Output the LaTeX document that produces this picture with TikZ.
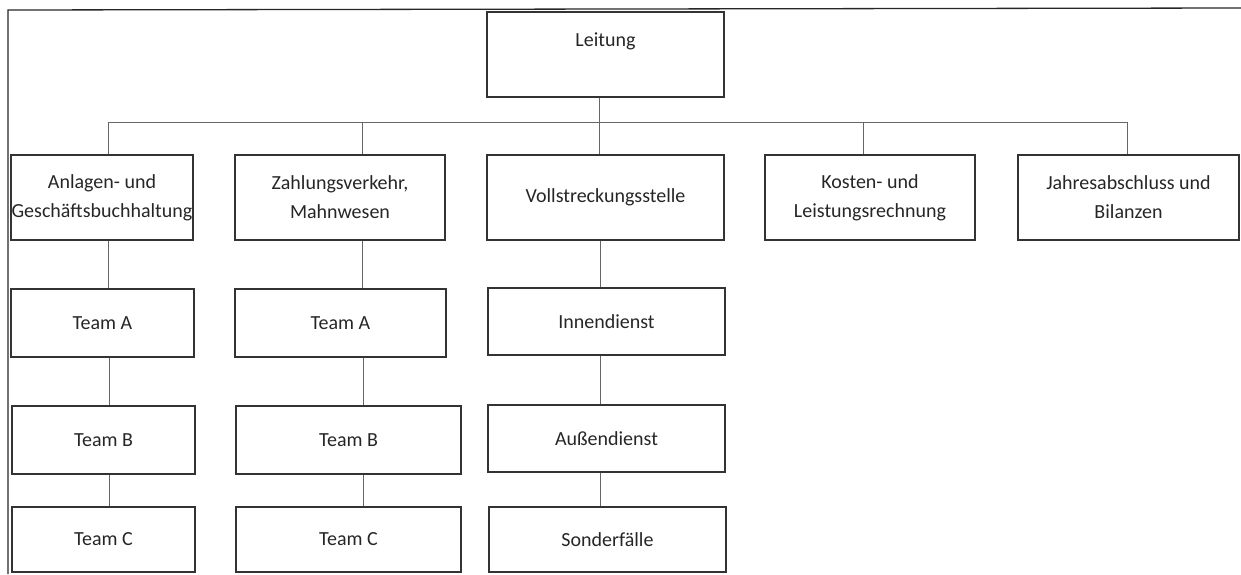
\documentclass[tikz,border=0pt]{standalone}
\usepackage{fontspec}
\setmainfont{Carlito}
\begin{document}
\begin{tikzpicture}[x=1pt,y=-1pt,
  box/.style={draw=black!80, line width=1.2pt, align=center, inner sep=0pt,
    font=\fontsize{20}{29}\selectfont, text=black!85},
  conn/.style={draw=black!60, line width=1pt},
  frame/.style={draw=black!85, line width=1.3pt}]
\useasboundingbox (0,0) rectangle (1241,574);
% frame
\draw[frame] (8,574) -- (8,10) -- (1241,8);
% top
\node[box, minimum width=237pt, minimum height=85pt, text height=14pt, text depth=31pt] (lei) at (605.5,54.5) {Leitung};
% row 1
\node[box, minimum width=182pt, minimum height=85pt] (anl) at (102,197.5) {Anlagen- und\\Geschäftsbuchhaltung};
\node[box, minimum width=210pt, minimum height=85pt] (zah) at (340,197.5) {Zahlungsverkehr,\\Mahnwesen};
\node[box, minimum width=237pt, minimum height=85pt] (vol) at (605.5,197.5) {Vollstreckungsstelle};
\node[box, minimum width=210pt, minimum height=85pt] (kos) at (870,197.5) {Kosten- und\\Leistungsrechnung};
\node[box, minimum width=221pt, minimum height=85pt] (jah) at (1128.5,197.5) {Jahresabschluss und\\Bilanzen};
% row 2
\node[box, minimum width=183pt, minimum height=68pt] (ta1) at (102.5,323) {Team A};
\node[box, minimum width=211pt, minimum height=68pt] (ta2) at (340.5,323) {Team A};
\node[box, minimum width=237pt, minimum height=67pt] (inn) at (606.5,321.5) {Innendienst};
% row 3
\node[box, minimum width=183pt, minimum height=68pt] (tb1) at (103.5,440) {Team B};
\node[box, minimum width=225pt, minimum height=68pt] (tb2) at (348.5,440) {Team B};
\node[box, minimum width=237pt, minimum height=67pt] (aus) at (606.5,438.5) {Außendienst};
% row 4
\node[box, minimum width=183pt, minimum height=65pt] (tc1) at (103.5,539.5) {Team C};
\node[box, minimum width=225pt, minimum height=65pt] (tc2) at (348.5,539.5) {Team C};
\node[box, minimum width=237pt, minimum height=65pt] (son) at (607.5,539.5) {Sonderfälle};
% connector anchors
\coordinate (b1) at (108,122);
\coordinate (b2) at (362,122);
\coordinate (b3) at (599,122);
\coordinate (b4) at (863,122);
\coordinate (b5) at (1127,122);
\coordinate (k1) at (109,0);
\coordinate (k2) at (363,0);
\coordinate (k3) at (600,0);
% connectors
\draw[conn] (b3 |- lei.south) -- (b3 |- vol.north);
\draw[conn] (b1 |- anl.north) -- (b1) -- (b5) -- (b5 |- jah.north);
\draw[conn] (b2) -- (b2 |- zah.north);
\draw[conn] (b4) -- (b4 |- kos.north);
\draw[conn] (b1 |- anl.south) -- (b1 |- ta1.north);
\draw[conn] (k1 |- ta1.south) -- (k1 |- tb1.north);
\draw[conn] (k1 |- tb1.south) -- (k1 |- tc1.north);
\draw[conn] (b2 |- zah.south) -- (b2 |- ta2.north);
\draw[conn] (k2 |- ta2.south) -- (k2 |- tb2.north);
\draw[conn] (k2 |- tb2.south) -- (k2 |- tc2.north);
\draw[conn] (k3 |- vol.south) -- (k3 |- inn.north);
\draw[conn] (k3 |- inn.south) -- (k3 |- aus.north);
\draw[conn] (k3 |- aus.south) -- (k3 |- son.north);
\end{tikzpicture}
\end{document}
